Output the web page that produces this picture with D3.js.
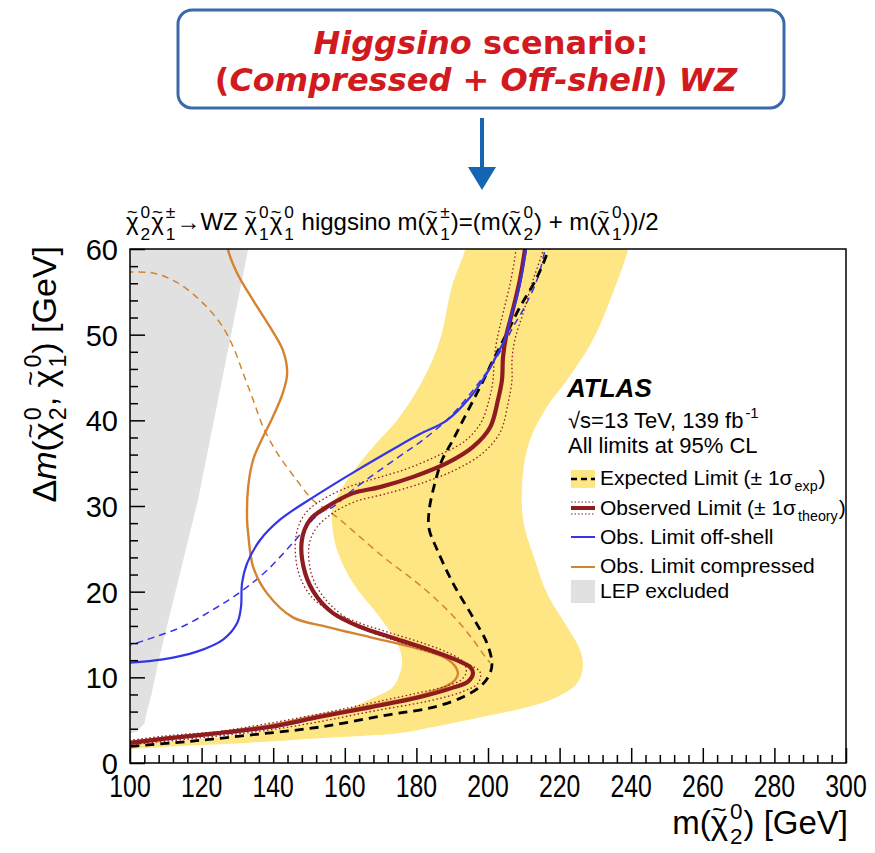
<!DOCTYPE html>
<html>
<head>
<meta charset="utf-8">
<script src="https://cdn.jsdelivr.net/npm/d3@7"></script>
<style>
body { margin: 0; background: #fff; }
svg { display: block; }
text { white-space: pre; }
</style>
</head>
<body>
<svg id="chart" width="875" height="853"></svg>
<script>
// all points are [m(chi2), delta m] in GeV
const lepExcluded = [[99,61],[133.5,61],[119,30.7],[108,12],[106,8],[104.6,5.8],[104,4.6],[102,3.7],[99,3.3]];

const bandInner = [[194,61],[193.6,59.9],[189.9,55.6],[186.6,49.4],[181.8,44.7],[174.6,40.0],[167.9,36.9],
  [160.6,33.0],[156.7,29.9],[156.4,28.4],[157.8,24.9],[162.3,21.0],[169.8,17.0],[174.6,14.0],[176.0,12.0],
  [175.4,10.5],[173.5,8.9],[167.0,7.4],[157.8,5.8],[143.9,4.2],[125.1,3.0],[106.4,2.4],[99,2.3]];
const bandOuter = [[239.4,61],[239.1,59.9],[234.9,54.9],[229.3,49.4],[222.1,44.7],[216.5,41.6],[211.7,37.7],
  [209.8,33.9],[209.8,28.4],[213.1,23.7],[216.5,19.8],[222.1,15.9],[225.7,13.2],[226.5,11.2],[224.9,9.3],
  [219.3,7.7],[210.9,6.5],[198.6,5.4],[184.6,4.2],[175.4,3.5],[153.1,2.9],[134.4,2.4],[115.9,2.0],[99,1.6]];

const expected = [[217.2,61],[216.8,59.9],[213.7,56.7],[208.9,53.2],[205.3,50.2],[201.4,47.0],[197.8,43.9],
  [194.1,40.9],[190.2,37.7],[187.2,35.4],[185.0,32.4],[183.6,29.6],[183.5,27.4],[185.8,24.9],[190.2,21.0],
  [195.8,17.0],[199.7,14.0],[201.1,11.7],[200.6,10.5],[198.3,9.1],[193.0,7.7],[184.6,6.5],[171.8,5.6],
  [153.1,4.2],[134.4,3.3],[115.9,2.5],[99,1.9]];

const observed = [[210.6,61],[210.3,59.9],[208.9,56.4],[206.7,52.5],[205.0,49.7],[204.2,47.4],[203.9,44.7],
  [202.8,42.4],[200.6,39.2],[195.8,36.9],[188.5,35.0],[179.1,33.4],[169.8,32.2],[162.3,31.5],[155.0,29.9],
  [150.3,28.4],[148.0,26.0],[148.9,22.2],[152.2,19.4],[156.7,17.5],[164.2,15.9],[173.5,14.6],[183.8,13.2],
  [191.3,12.0],[195.0,11.2],[195.8,10.5],[194.4,9.5],[190.2,8.8],[181.0,7.7],[167.0,6.5],[153.1,5.4],
  [139.1,4.2],[125.1,3.5],[111.2,2.9],[99,2.3]];

const observedDown = [[208,61],[207.8,59.9],[206.4,56.4],[204.2,52.5],[202.5,49.4],[201.7,47.0],[201.4,44.7],
  [200.3,42.4],[198.0,39.7],[193.6,37.6],[186.6,36.0],[177.7,34.4],[169.3,33.3],[161.5,32.3],[153.6,30.7],
  [148.9,29.1],[146.4,26.6],[146.9,22.5],[150.3,19.6],[155.3,17.9],[163.1,16.5],[172.6,15.2],[183.2,13.8],
  [190.2,12.6],[193.3,11.7],[193.9,10.6],[192.5,9.7],[188.6,9.0],[179.6,8.1],[166.2,6.9],[152.5,5.7],
  [138.5,4.6],[124.9,3.7],[110.9,3.2],[99,2.6]];

const observedUp = [[215.8,61],[215.4,59.9],[212.6,56.4],[209.8,52.5],[207.5,49.4],[206.7,47.0],[206.7,44.7],
  [205.6,42.0],[203.4,38.6],[198.6,36.2],[190.8,34.2],[181.0,32.6],[171.2,31.4],[162.8,30.5],[156.4,29.1],
  [152.0,27.4],[150.0,25.4],[150.8,21.9],[154.2,19.3],[158.9,17.4],[166.2,15.5],[175.4,14.1],[185.8,12.7],
  [193.9,11.6],[197.8,10.6],[197.2,9.3],[192.7,8.3],[183.0,7.2],[168.4,6.1],[153.9,4.9],[139.7,3.9],
  [125.7,3.2],[111.5,2.6],[99,2.1]];

const offshellObs = [[210.9,61],[210.6,59.9],[209.5,57.2],[208.1,54.4],[206.1,51.7],[205.0,49.7],[202.8,47.9],
  [199.7,45.5],[195.0,42.7],[188.5,40.0],[181.0,38.4],[175.4,37.1],[162.3,33.9],[151.1,31.0],[141.9,28.4],
  [136.3,26.0],[132.7,23.3],[131.3,21.0],[131.0,18.2],[129.9,16.3],[126.0,14.4],[118.7,13.0],[109.2,12.1],
  [99,11.7]];

const offshellExp = [[216.3,61],[215.9,59.9],[213.7,56.4],[209.8,52.9],[207.0,50.9],[204.2,48.6],[200.6,46.2],
  [195.8,43.5],[189.4,40.4],[181.8,37.7],[174.6,35.6],[162.3,31.9],[156.7,29.9],[153.1,29.2],[145.5,25.7],
  [138.3,22.5],[131.6,20.2],[123.2,17.9],[114.0,15.8],[104.7,14.4],[99,13.6]];

const compressedObs = [[127.1,61],[127.4,59.9],[129.9,57.2],[134.4,54.0],[139.1,50.9],[142.7,48.2],[143.9,45.5],
  [142.7,43.2],[139.9,40.4],[137.2,38.1],[134.4,35.4],[133.0,32.2],[132.7,28.4],[133.0,26.8],[134.4,22.9],
  [138.3,19.8],[145.5,17.0],[155.0,15.9],[167.0,14.7],[179.1,13.5],[187.4,12.4],[190.6,11.4],[191.6,10.4],
  [190.8,9.7],[188.5,9.0],[181.0,7.9],[167.0,6.7],[153.1,5.6],[139.1,4.4],[125.1,3.6],[111.2,3.0],[99,2.4]];

const compressedExp = [[99,57.3],[106.4,57.2],[113.1,56.1],[119.6,54.0],[125.1,51.4],[128.8,48.6],[131.6,45.5],
  [134.4,42.4],[137.2,39.2],[141.1,36.2],[146.6,33.0],[151.1,30.7],[157.8,28.7],[164.2,26.4],[171.8,23.7],
  [179.1,21.4],[185.8,19.0],[191.3,16.7],[195.8,14.4],[199.2,12.4],[200.6,11.7]];

const xTicks = [100,120,140,160,180,200,220,240,260,280,300];
const yTicks = [0,10,20,30,40,50,60];

const legendLabels = ['Expected Limit (\u00b1 1\u03c3', 'Observed Limit (\u00b1 1\u03c3', 'Obs. Limit off-shell',
  'Obs. Limit compressed', 'LEP excluded'];

const C = {band:'#fde683', obs:'#8e1b1f', blue:'#3434e8', orange:'#d6832f', lep:'#e1e1e1'};
const FONT = '"Liberation Sans", Arial, sans-serif';

const svg = d3.select('#chart');
const L = 130, R = 846, T = 249, B = 763;
const x = d3.scaleLinear().domain([100,300]).range([L,R]);
const y = d3.scaleLinear().domain([0,60]).range([B,T]);

// text built from pieces, chi with tilde and stacked indices like ROOT
function rich(parent, px, py, parts, o) {
  const g = parent.append('g').attr('font-family', o.font || FONT).attr('fill', o.color || '#000');
  const s = o.size;
  const supDy = o.supDy || -0.45, subDy = o.subDy || 0.3, ss = s * (o.script || 0.68);
  let cx = 0;
  const put = (t, ax, ay, size, extra) => {
    const el = g.append('text').attr('x', ax).attr('y', ay).attr('font-size', size).text(t);
    if (extra) Object.entries(extra).forEach(([k, v]) => el.attr(k, v));
    return el.node().getComputedTextLength();
  };
  parts.forEach(p => {
    if (typeof p === 'string') { cx += put(p, cx, 0, s); return; }
    if (p.chi) {
      const w = put('\u03c7', cx, 0, s);
      put('~', cx + w / 2, -s * 0.5, s * 0.75, {'text-anchor': 'middle'});
      cx += w;
    } else if (p.t) {
      cx += put(p.t, cx, 0, s, p.i ? {'font-style': 'italic'} : null);
    }
    if (p.sup || p.sub) {
      let w1 = 0, w2 = 0;
      if (p.sup) w1 = put(p.sup, cx + 2, s * supDy, ss);
      if (p.sub) w2 = put(p.sub, cx + 2, s * subDy, ss);
      cx += Math.max(w1, w2) + 3;
    }
  });
  const shift = o.anchor === 'end' ? -cx : o.anchor === 'middle' ? -cx / 2 : 0;
  g.attr('transform', `translate(${px},${py})` + (o.rotate ? ` rotate(${o.rotate})` : '') +
    ` scale(${o.sx || 1},${o.sy || 1}) translate(${shift},0)`);
  return g;
}

// header box + arrow
svg.append('rect').attr('x', 178).attr('y', 10).attr('width', 606).attr('height', 98).attr('rx', 14)
  .attr('fill', '#fff').attr('stroke', '#3b69a9').attr('stroke-width', 3);
const h1 = svg.append('text').attr('x', 481).attr('y', 54).attr('text-anchor', 'middle')
  .attr('font-family', '"DejaVu Sans", sans-serif').attr('font-weight', 'bold').attr('font-size', 32).attr('fill', '#d11a20');
h1.append('tspan').attr('font-style', 'italic').text('Higgsino');
h1.append('tspan').text(' scenario:');
const h2 = svg.append('text').attr('x', 476).attr('y', 91).attr('text-anchor', 'middle')
  .attr('font-family', '"DejaVu Sans", sans-serif').attr('font-weight', 'bold').attr('font-size', 32).attr('fill', '#d11a20');
h2.append('tspan').text('(');
h2.append('tspan').attr('font-style', 'italic').text('Compressed');
h2.append('tspan').text(' + ');
h2.append('tspan').attr('font-style', 'italic').text('Off-shell');
h2.append('tspan').text(') ');
h2.append('tspan').attr('font-style', 'italic').text('WZ');
svg.append('line').attr('x1', 482).attr('x2', 482).attr('y1', 118).attr('y2', 170)
  .attr('stroke', '#1565b5').attr('stroke-width', 4);
svg.append('path').attr('d', 'M468,167 L496,167 L482,190 Z').attr('fill', '#1565b5');

// plot area
svg.append('clipPath').attr('id', 'clip').append('rect').attr('x', L).attr('y', T).attr('width', R - L).attr('height', B - T);
const plot = svg.append('g').attr('clip-path', 'url(#clip)');
const line = d3.line().x(d => x(d[0])).y(d => y(d[1])).curve(d3.curveCatmullRom.alpha(0.5));

plot.append('path').attr('d', d3.line().x(d => x(d[0])).y(d => y(d[1]))(lepExcluded) + 'Z').attr('fill', C.lep);
plot.append('path').attr('d', line(bandInner) + 'L' + line(bandOuter.slice().reverse()).slice(1) + 'Z').attr('fill', C.band);

const draw = (data, color, width, dash) => plot.append('path').attr('d', line(data)).attr('fill', 'none')
  .attr('stroke', color).attr('stroke-width', width).attr('stroke-dasharray', dash || null);
draw(compressedExp, C.orange, 1.5, '7,5');
draw(offshellExp, C.blue, 1.5, '7,5');
draw(expected, '#000', 2.8, '9,6');
draw(compressedObs, C.orange, 2.4);
draw(observedDown, C.obs, 1.3, '1.5,2.5');
draw(observedUp, C.obs, 1.3, '1.5,2.5');
draw(observed, C.obs, 4.2);
draw(offshellObs, C.blue, 2.2);

// frame and ticks
svg.append('rect').attr('x', L).attr('y', T).attr('width', R - L).attr('height', B - T)
  .attr('fill', 'none').attr('stroke', '#000').attr('stroke-width', 1.5);
const tickAxis = (axis, tr, size, vals) => svg.append('g').attr('transform', tr)
  .call(axis.tickValues(vals).tickSize(-size).tickSizeOuter(0).tickFormat(''))
  .call(g => g.select('.domain').remove())
  .call(g => g.selectAll('line').attr('stroke', '#000').attr('stroke-width', 1.5));
tickAxis(d3.axisBottom(x), `translate(0,${B})`, 15, xTicks);
tickAxis(d3.axisBottom(x), `translate(0,${B})`, 8, d3.range(104, 300, 4).filter(v => v % 20));
tickAxis(d3.axisLeft(y), `translate(${L},0)`, 15, yTicks);
tickAxis(d3.axisLeft(y), `translate(${L},0)`, 8, d3.range(2, 60, 2).filter(v => v % 10));

svg.append('g').selectAll('text').data(xTicks).join('text')
  .attr('transform', d => `translate(${x(d)},797) scale(0.8,1)`).attr('text-anchor', 'middle')
  .attr('font-family', FONT).attr('font-size', 31).text(d => d);
svg.append('g').selectAll('text').data(yTicks).join('text')
  .attr('transform', d => `translate(118,${y(d) + 11})`).attr('text-anchor', 'end')
  .attr('font-family', FONT).attr('font-size', 29).text(d => d);

// axis titles
rich(svg, 848, 834, ['m(', {chi: true, sup: '0', sub: '2'}, ') [GeV]'], {size: 33, anchor: 'end'});
rich(svg, 56, 246, ['\u0394', {t: 'm', i: true}, '(', {chi: true, sup: '0', sub: '2'}, ', ',
  {chi: true, sup: '0', sub: '1'}, ') [GeV]'], {size: 34, anchor: 'end', rotate: -90});

// process title
rich(svg, 126, 230, [{chi: true, sup: '0', sub: '2'}, {chi: true, sup: '\u00b1', sub: '1'}, '\u2192WZ ',
  {chi: true, sup: '0', sub: '1'}, {chi: true, sup: '0', sub: '1'}, ' higgsino m(', {chi: true, sup: '\u00b1', sub: '1'},
  ')=(m(', {chi: true, sup: '0', sub: '2'}, ') + m(', {chi: true, sup: '0', sub: '1'}, '))/2'],
  {size: 24, script: 0.72, supDy: -0.52, subDy: 0.4});

// ATLAS label and legend
svg.append('text').attr('x', 567).attr('y', 397).attr('font-family', FONT).attr('font-weight', 'bold')
  .attr('font-style', 'italic').attr('font-size', 26).text('ATLAS');
rich(svg, 568, 428, ['\u221as=13 TeV, 139 fb', {sup: '-1'}], {size: 22});
rich(svg, 568, 453, ['All limits at 95% CL'], {size: 22});

const lg = svg.append('g');
lg.append('rect').attr('x', 571).attr('y', 470).attr('width', 24).attr('height', 18).attr('fill', C.band);
lg.append('line').attr('x1', 571).attr('x2', 595).attr('y1', 479).attr('y2', 479).attr('stroke', '#000')
  .attr('stroke-width', 2.5).attr('stroke-dasharray', '6,4');
[502, 514].forEach(v => lg.append('line').attr('x1', 571).attr('x2', 595).attr('y1', v).attr('y2', v)
  .attr('stroke', C.obs).attr('stroke-width', 1.2).attr('stroke-dasharray', '1.5,2'));
lg.append('line').attr('x1', 571).attr('x2', 595).attr('y1', 508).attr('y2', 508).attr('stroke', C.obs).attr('stroke-width', 4);
lg.append('line').attr('x1', 571).attr('x2', 595).attr('y1', 537).attr('y2', 537).attr('stroke', C.blue).attr('stroke-width', 2);
lg.append('line').attr('x1', 571).attr('x2', 595).attr('y1', 567).attr('y2', 567).attr('stroke', C.orange).attr('stroke-width', 2);
lg.append('rect').attr('x', 571).attr('y', 580).attr('width', 24).attr('height', 23).attr('fill', C.lep);

rich(lg, 600, 485, [legendLabels[0], {sub: 'exp'}, ')'], {size: 21});
rich(lg, 600, 515, [legendLabels[1], {sub: 'theory'}, ')'], {size: 21});
rich(lg, 600, 544, [legendLabels[2]], {size: 21});
rich(lg, 600, 573, [legendLabels[3]], {size: 21});
rich(lg, 600, 598, [legendLabels[4]], {size: 21});
</script>
</body>
</html>
